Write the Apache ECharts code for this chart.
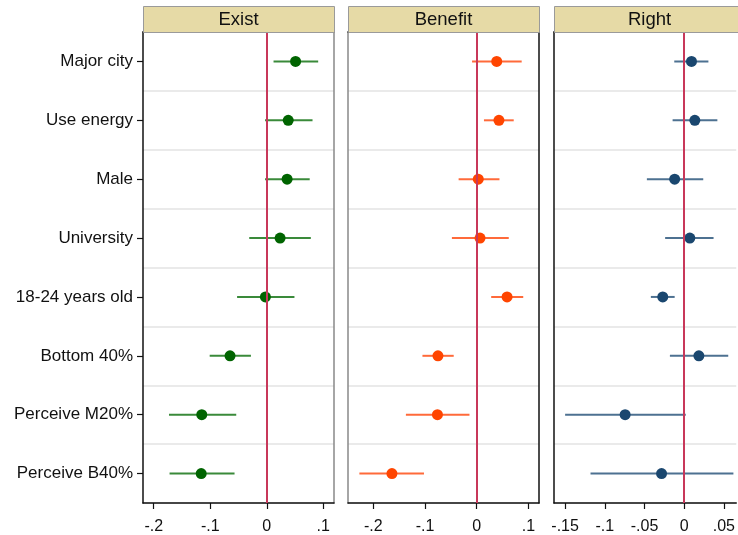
<!DOCTYPE html>
<html>
<head>
<meta charset="utf-8">
<script src="https://cdn.jsdelivr.net/npm/echarts@6/dist/echarts.min.js"></script>
<style>
  html, body { margin: 0; padding: 0; background: #fff; }
  #chart { width: 738px; height: 535px; }
</style>
</head>
<body>
<div id="chart"></div>
<script>
// Coefficient plot: point estimates with confidence intervals, three outcome panels
const categories = ['Major city', 'Use energy', 'Male', 'University', '18-24 years old', 'Bottom 40%', 'Perceive M20%', 'Perceive B40%'];
const panelTitles = ['Exist', 'Benefit', 'Right'];

const existEst = [0.051, 0.038, 0.036, 0.0236, -0.0024, -0.065, -0.115, -0.116];
const existLo  = [0.012, -0.003, -0.003, -0.031, -0.0525, -0.101, -0.173, -0.172];
const existHi  = [0.091, 0.081, 0.076, 0.078, 0.049, -0.028, -0.054, -0.057];

const benefitEst = [0.0387, 0.043, 0.003, 0.0064, 0.0587, -0.075, -0.076, -0.164];
const benefitLo  = [-0.009, 0.014, -0.035, -0.048, 0.028, -0.105, -0.137, -0.227];
const benefitHi  = [0.087, 0.0716, 0.044, 0.062, 0.090, -0.0445, -0.014, -0.102];

const rightEst = [0.0092, 0.0134, -0.012, 0.0071, -0.027, 0.0185, -0.0744, -0.0285];
const rightLo  = [-0.0125, -0.0146, -0.047, -0.024, -0.042, -0.018, -0.150, -0.118];
const rightHi  = [0.0305, 0.0418, 0.024, 0.037, -0.012, 0.0555, 0.002, 0.062];

const existTicks = [-0.2, -0.1, 0, 0.1];
const benefitTicks = [-0.2, -0.1, 0, 0.1];
const rightTicks = [-0.15, -0.1, -0.05, 0, 0.05];

const FONT = '"Liberation Sans", Arial, Helvetica, sans-serif';

// the last panel runs off the right edge of the page, so it is cut at the edge
const panels = [
  { est: existEst, lo: existLo, hi: existHi, ticks: existTicks, min: -0.219, max: 0.119,
    dot: '#006400', bar: '#3a8a3a', left: 143, width: 191, leftLine: '#111', rightLine: '#888' },
  { est: benefitEst, lo: benefitLo, hi: benefitHi, ticks: benefitTicks, min: -0.249, max: 0.1205,
    dot: '#ff4500', bar: '#ff6a3a', left: 348, width: 191, leftLine: '#888', rightLine: '#111' },
  { est: rightEst, lo: rightLo, hi: rightHi, ticks: rightTicks, min: -0.164, max: 0.0656,
    dot: '#1a476f', bar: '#4d7191', left: 554, width: 184, leftLine: '#111', rightLine: null }
];

const TOP = 32, PLOT_H = 471, HEAD_TOP = 6;

function fmtTick(v) {
  if (v === 0) return '0';
  const s = String(Math.abs(v)).replace(/^0/, '');
  return (v < 0 ? '-' : '') + s;
}

const grid = [], xAxis = [], yAxis = [], series = [], graphic = [];

panels.forEach((p, i) => {
  grid.push({ left: p.left, top: TOP, width: p.width, height: PLOT_H, containLabel: false,
              show: false });

  // bottom value axis
  xAxis.push({
    type: 'value', gridIndex: i, min: p.min, max: p.max, position: 'bottom',
    axisLine: { show: true, onZero: false, lineStyle: { color: '#111', width: 1.5 } },
    axisTick: { show: true, length: 6, lineStyle: { color: '#111', width: 1.2 }, customValues: p.ticks },
    axisLabel: { show: true, margin: 16, fontSize: 16, color: '#111', fontFamily: FONT,
                 customValues: p.ticks, formatter: fmtTick },
    splitLine: { show: false }
  });
  // top border of the plot area
  xAxis.push({
    type: 'value', gridIndex: i, min: p.min, max: p.max, position: 'top',
    axisLine: { show: true, onZero: false, lineStyle: { color: '#222', width: 1.5 } },
    axisTick: { show: false }, axisLabel: { show: false }, splitLine: { show: false }
  });

  yAxis.push({
    type: 'category', gridIndex: i, data: categories, inverse: true, boundaryGap: true,
    axisLine: { show: true, onZero: false, lineStyle: { color: p.leftLine, width: 1.5 } },
    axisTick: { show: i === 0, alignWithLabel: true, length: 6, lineStyle: { color: '#111', width: 1.2 } },
    axisLabel: { show: i === 0, fontSize: 17, color: '#111', fontFamily: FONT, margin: 10 },
    splitLine: { show: true, interval: 0, lineStyle: { color: '#e3e3e3', width: 1.5 } }
  });
  // right border of the plot area
  yAxis.push({
    type: 'category', gridIndex: i, data: categories, inverse: true, position: 'right',
    axisLine: { show: !!p.rightLine, onZero: false, lineStyle: { color: p.rightLine || '#888', width: 1.5 } },
    axisTick: { show: false }, axisLabel: { show: false }, splitLine: { show: false }
  });

  const ciData = categories.map((c, k) => [k, p.lo[k], p.hi[k]]);
  series.push({
    type: 'custom', xAxisIndex: 2 * i, yAxisIndex: 2 * i, data: ciData,
    encode: { x: [1, 2], y: 0 }, z: 3,
    renderItem: (params, api) => {
      const a = api.coord([api.value(1), api.value(0)]);
      const b = api.coord([api.value(2), api.value(0)]);
      return { type: 'line', shape: { x1: a[0], y1: a[1], x2: b[0], y2: b[1] },
               style: { stroke: p.bar, lineWidth: 2 } };
    }
  });
  series.push({
    type: 'scatter', xAxisIndex: 2 * i, yAxisIndex: 2 * i, z: 4,
    data: categories.map((c, k) => [p.est[k], c]),
    symbol: 'circle', symbolSize: 11,
    itemStyle: { color: p.dot, opacity: 1 },
    markLine: {
      silent: true, symbol: ['none', 'none'], label: { show: false },
      lineStyle: { color: '#c8385a', width: 2, type: 'solid' },
      data: [{ xAxis: 0 }]
    }
  });

  // panel header strip
  graphic.push({
    type: 'rect', left: p.left, top: HEAD_TOP, z: 10,
    shape: { width: i === 2 ? 191 : p.width, height: TOP - HEAD_TOP },
    style: { fill: '#e6daa6', stroke: '#9a9a9a', lineWidth: 1 }
  });
  graphic.push({
    type: 'text', z: 11, x: p.left + 191 / 2, y: HEAD_TOP + (TOP - HEAD_TOP) / 2 + 1,
    style: { text: panelTitles[i], fill: '#111', font: '18.5px ' + FONT, align: 'center', verticalAlign: 'middle' }
  });
});

const chart = echarts.init(document.getElementById('chart'), null, { renderer: 'canvas' });
chart.setOption({
  backgroundColor: '#fff',
  animation: false,
  grid, xAxis, yAxis, series, graphic
});
</script>
</body>
</html>
